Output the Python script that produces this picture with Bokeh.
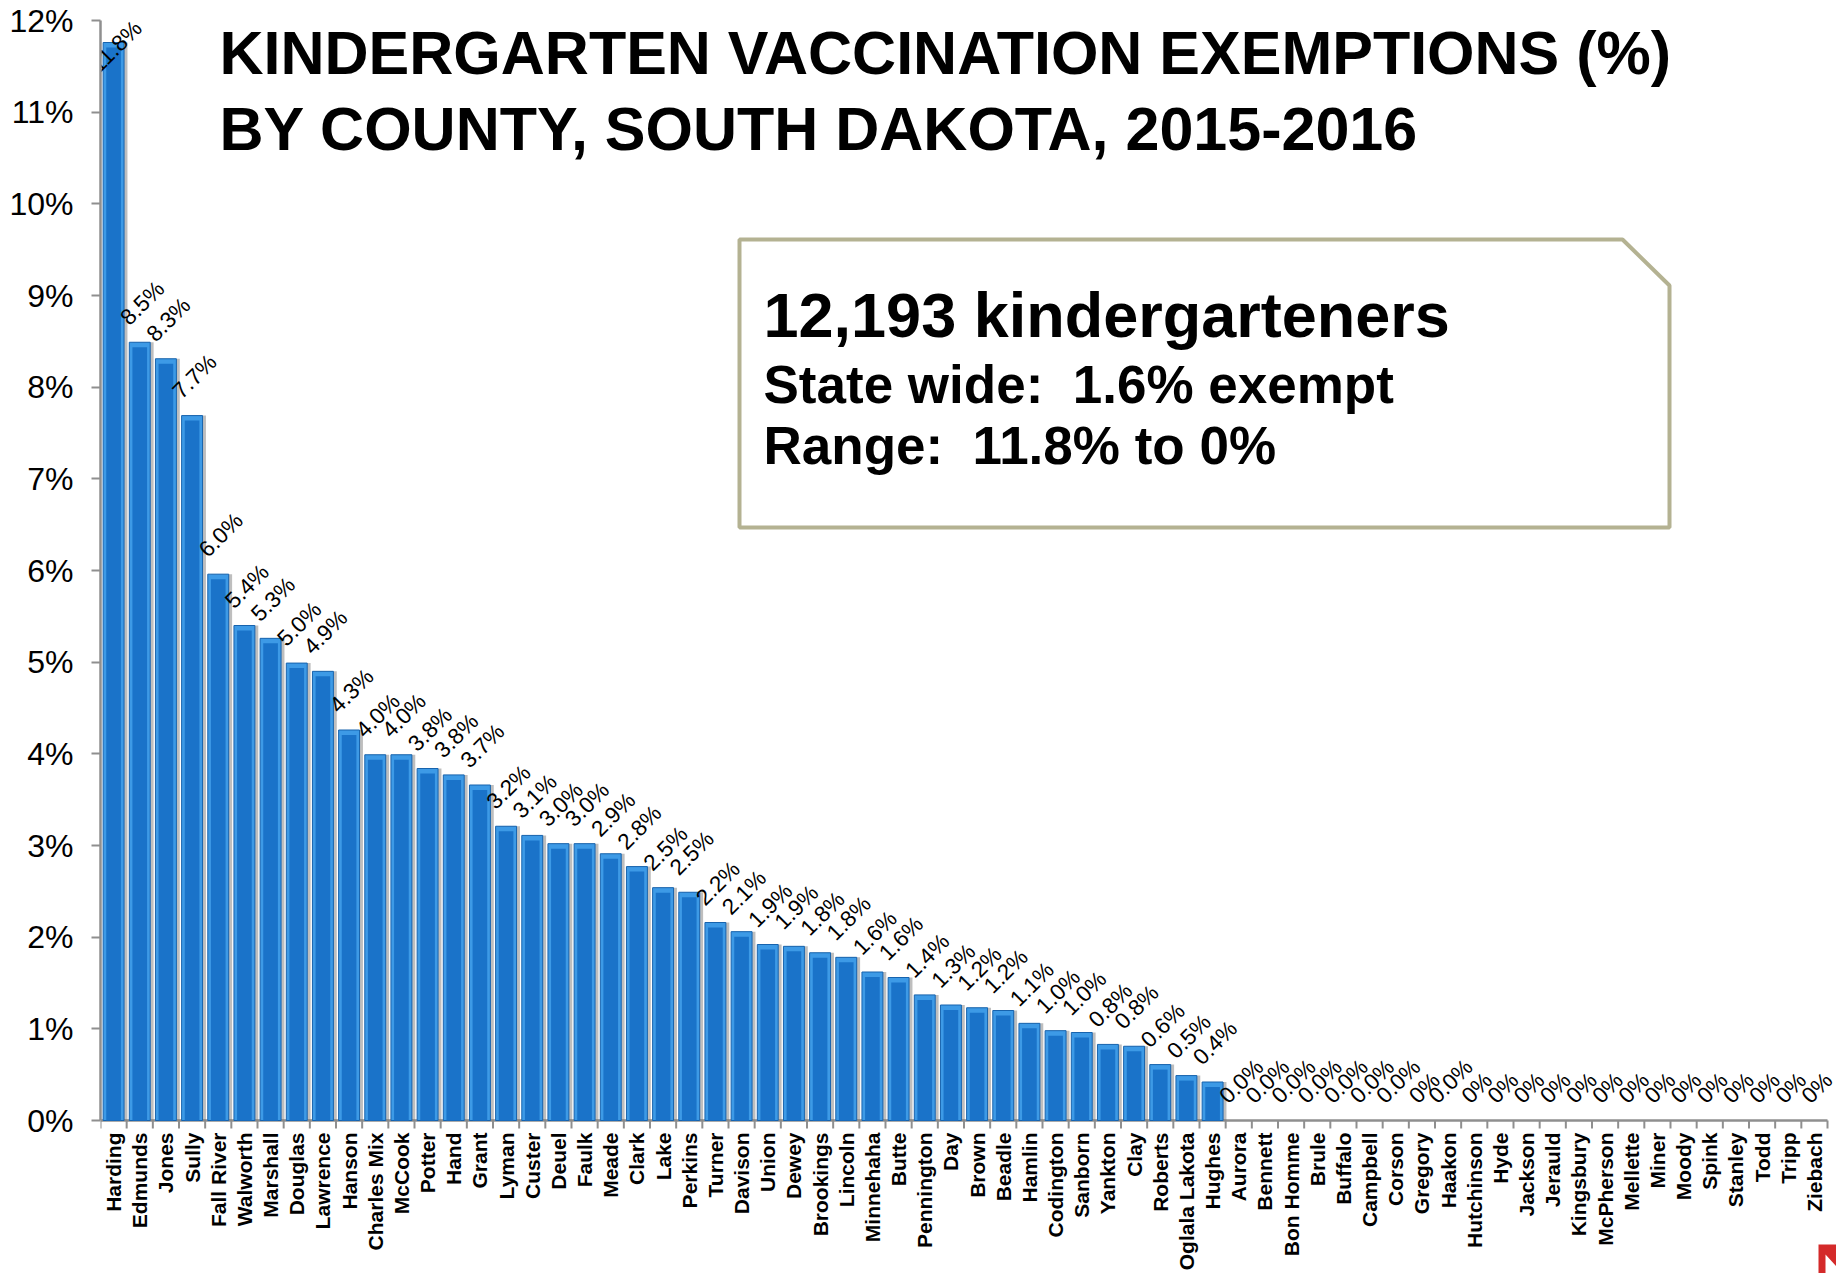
import numpy as np
from bokeh.plotting import figure
from bokeh.models import Range1d, FixedTicker, LinearAxis, ColumnDataSource
from bokeh.core.properties import value
from bokeh.embed import file_html
from bokeh.resources import INLINE

# ---------------- data ----------------
counties = [
    "Harding", "Edmunds", "Jones", "Sully", "Fall River", "Walworth", "Marshall",
    "Douglas", "Lawrence", "Hanson", "Charles Mix", "McCook", "Potter", "Hand",
    "Grant", "Lyman", "Custer", "Deuel", "Faulk", "Meade", "Clark", "Lake",
    "Perkins", "Turner", "Davison", "Union", "Dewey", "Brookings", "Lincoln",
    "Minnehaha", "Butte", "Pennington", "Day", "Brown", "Beadle", "Hamlin",
    "Codington", "Sanborn", "Yankton", "Clay", "Roberts", "Oglala Lakota",
    "Hughes", "Aurora", "Bennett", "Bon Homme", "Brule", "Buffalo", "Campbell",
    "Corson", "Gregory", "Haakon", "Hutchinson", "Hyde", "Jackson", "Jerauld",
    "Kingsbury", "McPherson", "Mellette", "Miner", "Moody", "Spink", "Stanley",
    "Todd", "Tripp", "Ziebach",
]
exempt_pct = [
    11.76, 8.49, 8.31, 7.69, 5.96, 5.40, 5.26, 4.99, 4.90, 4.26, 3.99, 3.99,
    3.84, 3.77, 3.66, 3.21, 3.11, 3.02, 3.02, 2.91, 2.77, 2.54, 2.49, 2.16,
    2.06, 1.92, 1.90, 1.83, 1.78, 1.62, 1.56, 1.37, 1.26, 1.23, 1.20, 1.06,
    0.98, 0.96, 0.83, 0.81, 0.61, 0.49, 0.42,
    0, 0, 0, 0, 0, 0, 0, 0, 0, 0, 0, 0, 0, 0, 0, 0, 0, 0, 0, 0, 0, 0, 0,
]
value_labels = [
    "11.8%", "8.5%", "8.3%", "7.7%", "6.0%", "5.4%", "5.3%", "5.0%", "4.9%",
    "4.3%", "4.0%", "4.0%", "3.8%", "3.8%", "3.7%", "3.2%", "3.1%", "3.0%",
    "3.0%", "2.9%", "2.8%", "2.5%", "2.5%", "2.2%", "2.1%", "1.9%", "1.9%",
    "1.8%", "1.8%", "1.6%", "1.6%", "1.4%", "1.3%", "1.2%", "1.2%", "1.1%",
    "1.0%", "1.0%", "0.8%", "0.8%", "0.6%", "0.5%", "0.4%",
    "0.0%", "0.0%", "0.0%", "0.0%", "0.0%", "0.0%", "0.0%", "0%", "0.0%",
    "0%", "0%", "0%", "0%", "0%", "0%", "0%", "0%", "0%", "0%", "0%", "0%",
    "0%", "0%",
]
y_ticks = list(range(0, 13))
y_tick_labels = [f"{t}%" for t in y_ticks]
title_lines = ["KINDERGARTEN VACCINATION EXEMPTIONS (%)",
               "BY COUNTY, SOUTH DAKOTA, 2015-2016"]
NBSP = "\u00a0"
box_lines = ["12,193 kindergarteners",
             "State wide: " + NBSP + "1.6% exempt",
             "Range: " + NBSP + "11.8% to 0%"]

# ---------------- layout (page pixels; Bokeh page has no body margin) ----------------
W, H = 1836, 1273
ML, MT, MR, MB = 100, 0, 0, 0
FW = W - ML - MR            # frame width (px)
FH = H - MT - MB            # frame height (px)
YMAX = 12
TOP_PX = 20                 # page y of the 12% line
AXIS_PX = 1100              # pixels from 0% to 12%
ppu = AXIS_PX / YMAX        # pixels per percent
YTOP = YMAX + (TOP_PX - MT) / ppu
YMIN = -(H - MB - TOP_PX - AXIS_PX) / ppu
n = len(counties)
PLOT_RIGHT = 1827           # page x where the category axis ends
slot = (PLOT_RIGHT - ML) / n
XMAX = n + (W - PLOT_RIGHT) / slot

p = figure(width=W, height=H, output_backend="svg", toolbar_location=None,
           x_range=Range1d(0, XMAX), y_range=Range1d(YMIN, YTOP),
           min_border_left=ML, min_border_top=MT, min_border_right=MR,
           min_border_bottom=MB, x_axis_location=None, y_axis_location=None,
           background_fill_color="white", border_fill_color="white")
p.outline_line_color = None
p.xgrid.grid_line_color = None
p.ygrid.grid_line_color = None

# page-pixel coordinate ranges for annotations (title, text box)
p.extra_x_ranges = {"px": Range1d(ML, ML + FW)}
p.extra_y_ranges = {"py": Range1d(MT + FH, MT)}

AX = "#8f8f8f"
yaxis = LinearAxis(
    ticker=FixedTicker(ticks=y_ticks, minor_ticks=[]),
    bounds=(0, YMAX),
    major_label_overrides={t: l for t, l in zip(y_ticks, y_tick_labels)},
    axis_line_color=AX, axis_line_width=2.5,
    major_tick_line_color=AX, major_tick_line_width=2,
    major_tick_out=9, major_tick_in=0, minor_tick_out=0,
    minor_tick_line_color=None,
    major_label_text_font="Liberation Sans", major_label_text_font_size="32px",
    major_label_text_color="black", major_label_standoff=18,
)
p.add_layout(yaxis, "left")

# ---------------- category axis drawn at y = 0 ----------------
centers = np.arange(n) + 0.5
bounds = np.arange(n + 1)
p.segment(x0=[0], y0=[0], x1=[n], y1=[0], line_color=AX, line_width=2.5)
p.segment(x0=bounds, y0=np.zeros(n + 1), x1=bounds,
          y1=np.full(n + 1, -8 / ppu), line_color=AX, line_width=2)
p.text(x=centers, y=np.full(n, -12 / ppu), text=counties, angle=np.pi / 2,
       text_align="right", text_baseline="middle",
       text_font=value("Liberation Sans"), text_font_style="bold",
       text_font_size="21px", text_color="black")

# ---------------- bars ----------------
vals = np.array(exempt_pct, dtype=float)
mask = vals > 0
bar_src = ColumnDataSource(dict(
    x=centers[mask],
    xs=centers[mask] + 0.13,
    top=vals[mask],
    inner_top=np.maximum(vals[mask] - 5 / ppu, 0),
))
p.vbar(x="xs", top="top", width=0.8, source=bar_src,
       fill_color="#6f6f6f", fill_alpha=0.45, line_color=None)
p.vbar(x="x", top="top", width=0.8, source=bar_src,
       fill_color="#3d9ae6", line_color="#1763ad", line_width=1)
p.vbar(x="x", top="inner_top", width=0.56, source=bar_src,
       fill_color="#1a73c9", line_color=None)

# ---------------- value labels (rotated 45 deg) ----------------
fs = 22.5
cw = {".": 0.278, "%": 0.889}
ly = []
for v, lab in zip(vals, value_labels):
    wpx = sum(cw.get(ch, 0.556) for ch in lab) * fs
    half = 0.354 * (wpx + fs)
    off = 13 + half
    ly.append(min(v + off / ppu, YMAX - 26 / ppu))
lab_src = ColumnDataSource(dict(x=centers + 0.1, y=ly, text=value_labels))
p.text(x="x", y="y", text="text", source=lab_src, angle=np.pi / 4,
       text_align="center", text_baseline="middle",
       text_font=value("Liberation Sans"), text_font_size=f"{fs}px",
       text_color="black")

# ---------------- title (baselines at page y 74 and 150) ----------------
MID = 0.3465  # em distance from baseline to 'middle'
tfs = 61
p.text(x=[219, 219], y=[74 - MID * tfs, 150 - MID * tfs], text=title_lines,
       x_range_name="px", y_range_name="py",
       text_align="left", text_baseline="middle",
       text_font=value("Liberation Sans"), text_font_style="bold",
       text_font_size=f"{tfs}px", text_color="black")

# ---------------- info box ----------------
p.patch(x=[739, 1622, 1669, 1669, 739], y=[239, 239, 285, 527, 527],
        x_range_name="px", y_range_name="py",
        fill_color="white", line_color="#b4b292", line_width=4)
box_fs = [63, 53, 53]
box_base = [336, 402, 463]
box_src = ColumnDataSource(dict(
    x=[763, 763, 763],
    y=[b - MID * f for b, f in zip(box_base, box_fs)],
    text=box_lines,
    size=[f"{f}px" for f in box_fs],
))
p.text(x="x", y="y", text="text", source=box_src,
       x_range_name="px", y_range_name="py",
       text_align="left", text_baseline="middle",
       text_font=value("Liberation Sans"), text_font_style="bold",
       text_font_size="size", text_color="black")

# ---------------- cut-off red logo fragment at bottom-right ----------------
p.patch(x=[1818, 1825, 1825, 1836, 1836, 1818], y=[1273, 1273, 1254, 1266, 1244, 1244],
        x_range_name="px", y_range_name="py",
        fill_color="#d42a2a", line_color=None)

open("out.html", "w").write(file_html(p, INLINE))
